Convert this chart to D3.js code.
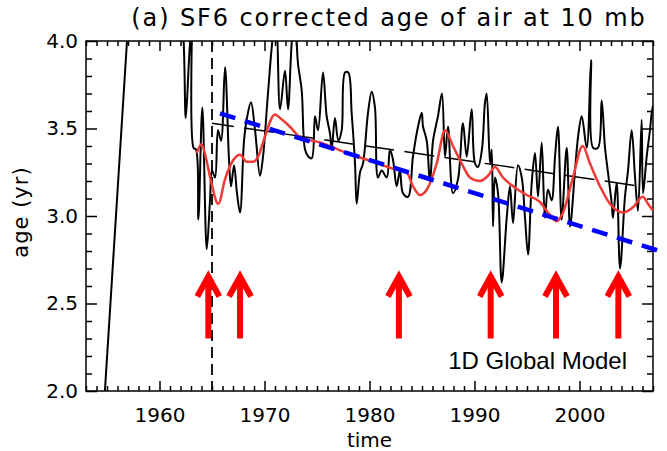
<!DOCTYPE html>
<html>
<head>
<meta charset="utf-8">
<script src="https://cdn.jsdelivr.net/npm/d3@7/dist/d3.min.js"></script>
<style>
  html, body { margin: 0; padding: 0; background: #fff; }
  svg { display: block; }
</style>
</head>
<body>
<div id="chart"></div>
<script>
// SF6 corrected age of air at 10 mb

// black curve: age (yr) vs time
const blackYears = [1954.0, 1955.0, 1956.0, 1957.0, 1957.5, 1959.5, 1961.5, 1962.24, 1962.50, 1962.81, 1963.05, 1963.24, 1963.48, 1963.70,
  1964.08, 1964.50, 1964.81, 1965.00, 1965.29, 1965.57, 1965.86, 1966.24, 1966.62, 1966.81, 1967.10, 1967.38,
  1967.67, 1968.05, 1968.33, 1968.71, 1969.10, 1969.57, 1969.86, 1970.33, 1970.81, 1971.10, 1971.48, 1971.95,
  1972.24, 1972.62, 1972.90, 1973.19, 1973.54, 1973.86, 1974.17, 1974.50, 1974.81, 1975.10, 1975.57, 1975.92,
  1976.24, 1976.40, 1976.71, 1977.03, 1977.35, 1977.67, 1977.98, 1978.30, 1978.62, 1978.78, 1979.10, 1979.38,
  1979.86, 1980.21, 1980.52, 1980.81, 1981.16, 1981.64, 1981.95, 1982.24, 1982.59, 1982.90, 1983.19, 1983.67,
  1984.14, 1984.62, 1984.97, 1985.10, 1985.45, 1985.76, 1986.05, 1986.52, 1986.90, 1987.19, 1987.48, 1987.95,
  1988.43, 1988.90, 1989.26, 1989.73, 1990.05, 1990.33, 1990.71, 1991.00, 1991.16, 1991.48, 1991.64, 1991.76,
  1991.95, 1992.24, 1992.59, 1993.07, 1993.38, 1993.67, 1994.14, 1994.50, 1994.81, 1995.10, 1995.45, 1995.76,
  1996.05, 1996.40, 1996.71, 1997.00, 1997.35, 1997.67, 1997.95, 1998.30, 1998.78, 1999.10, 1999.57, 1999.86,
  2000.21, 2000.69, 2001.10, 2001.29, 2001.76, 2002.11, 2002.43, 2002.71, 2003.07, 2003.19, 2003.54, 2003.86,
  2004.33, 2004.62, 2004.97, 2005.29, 2005.57, 2005.92, 2006.05, 2006.40, 2006.71, 2006.88, 2007.0];
const blackAges = [1.24, 2.19, 3.14, 4.09, 4.57, 4.6, 4.4, 4.06, 3.56, 3.89, 4.09, 3.39, 3.38, 2.98,
  3.62, 2.81, 3.09, 3.26, 3.22, 3.49, 3.43, 3.85, 3.32, 3.17, 3.29, 3.13,
  3.02, 3.43, 3.56, 3.65, 3.49, 3.23, 3.34, 3.70, 4.03, 4.12, 3.61, 3.83,
  3.61, 4.01, 4.12, 3.87, 3.72, 3.38, 3.34, 3.33, 3.57, 3.49, 3.82, 3.57,
  3.47, 3.38, 3.56, 3.43, 3.49, 3.82, 3.82, 3.59, 3.30, 3.07, 3.25, 3.30,
  3.59, 3.71, 3.62, 3.22, 3.26, 3.22, 3.38, 3.32, 3.17, 3.26, 3.13, 3.11,
  3.34, 3.51, 3.59, 3.51, 3.43, 3.19, 3.43, 3.57, 3.70, 3.34, 3.51, 3.13,
  3.21, 3.53, 3.34, 3.61, 3.30, 3.28, 3.38, 3.65, 3.70, 3.30, 3.38, 2.94,
  3.22, 3.13, 2.62, 2.99, 3.17, 2.96, 3.29, 3.22, 2.99, 2.78, 3.19, 3.36,
  3.11, 3.42, 2.99, 3.15, 3.09, 3.34, 3.51, 2.98, 3.39, 2.94, 3.26, 3.45,
  3.57, 3.39, 3.89, 3.39, 3.39, 3.66, 3.39, 3.25, 3.07, 2.99, 3.19, 2.70,
  3.11, 3.26, 3.49, 3.22, 3.03, 3.55, 3.13, 3.34, 3.49, 3.59, 3.63];

// red curve: 1D global model
const redYears = [1963.54, 1964.01, 1964.43, 1964.90, 1965.60, 1966.24, 1967.03, 1967.67, 1968.30, 1968.90, 1969.40,
  1969.86, 1971.0, 1971.48, 1972.43, 1973.38, 1975.29, 1977.83, 1980.33, 1982.24, 1983.54, 1984.14, 1984.81,
  1985.45, 1986.40, 1987.19, 1987.95, 1988.78, 1989.57, 1990.52, 1991.29, 1991.95, 1992.71, 1993.67, 1994.97,
  1996.24, 1997.0, 1997.83, 1998.43, 1999.38, 2000.30, 2001.0, 2001.95, 2002.90, 2004.14, 2005.10, 2006.02,
  2006.52, 2007.0];
const redAges = [3.36, 3.41, 3.33, 3.20, 3.07, 3.21, 3.32, 3.35, 3.31, 3.31, 3.34,
  3.42, 3.58, 3.56, 3.51, 3.45, 3.42, 3.36, 3.31, 3.27, 3.25, 3.17, 3.12,
  3.15, 3.30, 3.49, 3.40, 3.30, 3.22, 3.20, 3.23, 3.28, 3.22, 3.17, 3.12,
  3.08, 3.02, 2.97, 3.02, 3.22, 3.40, 3.30, 3.17, 3.07, 3.02, 3.05, 3.11,
  3.07, 3.03];

// thin black dashed trend and thick blue dashed fit
const trendYears = [1965.0, 2005.76];
const trendAges = [3.53, 3.17];
const fitYears = [1965.76, 2008.14];
const fitAges = [3.587, 2.79];

// vertical marker and eruption arrows
const markerYear = 1965;
const arrowYears = [1964.65, 1967.67, 1982.8, 1991.54, 1997.76, 2003.7];
const arrowTipAge = 2.66;
const arrowBaseAge = 2.30;

const xTicks = [1960, 1970, 1980, 1990, 2000];
const yTicks = [2.0, 2.5, 3.0, 3.5, 4.0];
const titleText = "(a) SF6 corrected age of air at 10 mb";
const modelLabel = "1D Global Model";

// ======================================================================================================
const W = 667, H = 451;
const margin = {top: 41, right: 14, bottom: 60, left: 86};
const width = W - margin.left - margin.right,
      height = H - margin.top - margin.bottom;

const svg = d3.select("#chart")
  .append("svg")
  .attr("width", W)
  .attr("height", H)
  .append("g")
  .attr("transform", "translate(" + margin.left + "," + margin.top + ")");

const x = d3.scaleLinear().domain([1953, 2007]).range([0, width]);
const y = d3.scaleLinear().domain([2.0, 4.0]).range([height, 0]);

svg.append("clipPath").attr("id", "plotclip")
  .append("rect").attr("width", width).attr("height", height);

const tickFont = "'DejaVu Sans', sans-serif";

// minor ticks
const minorX = d3.range(1953, 2008).filter(d => d % 10 !== 0);
const minorY = d3.range(21, 40).map(d => d / 10).filter(d => Math.round(d * 10) % 5 !== 0);

function styleAxis(g) {
  g.select(".domain").remove();
  g.selectAll("line").attr("stroke", "#000").attr("stroke-width", 1.5);
  g.selectAll("text").attr("font-family", tickFont).attr("font-size", 20).attr("fill", "#000");
}

svg.append("g").attr("transform", "translate(0," + height + ")")
  .call(d3.axisBottom(x).tickValues(xTicks).tickSizeInner(-10).tickSizeOuter(0)
    .tickPadding(17).tickFormat(d3.format("d")))
  .call(styleAxis);
svg.append("g").attr("transform", "translate(0," + height + ")")
  .call(d3.axisBottom(x).tickValues(minorX).tickSizeInner(-5).tickSizeOuter(0).tickFormat(""))
  .call(styleAxis);
svg.append("g")
  .call(d3.axisTop(x).tickValues(xTicks).tickSizeInner(-10).tickSizeOuter(0).tickFormat(""))
  .call(styleAxis);
svg.append("g")
  .call(d3.axisTop(x).tickValues(minorX).tickSizeInner(-5).tickSizeOuter(0).tickFormat(""))
  .call(styleAxis);

svg.append("g")
  .call(d3.axisLeft(y).tickValues(yTicks).tickSizeInner(-11).tickSizeOuter(0)
    .tickPadding(8).tickFormat(d3.format(".1f")))
  .call(styleAxis);
svg.append("g")
  .call(d3.axisLeft(y).tickValues(minorY).tickSizeInner(-6).tickSizeOuter(0).tickFormat(""))
  .call(styleAxis);
svg.append("g").attr("transform", "translate(" + width + ",0)")
  .call(d3.axisRight(y).tickValues(yTicks).tickSizeInner(-11).tickSizeOuter(0).tickFormat(""))
  .call(styleAxis);
svg.append("g").attr("transform", "translate(" + width + ",0)")
  .call(d3.axisRight(y).tickValues(minorY).tickSizeInner(-6).tickSizeOuter(0).tickFormat(""))
  .call(styleAxis);

// frame
svg.append("rect")
  .attr("width", width).attr("height", height)
  .attr("fill", "none").attr("stroke", "#000").attr("stroke-width", 1.5);

const plot = svg.append("g").attr("clip-path", "url(#plotclip)");

// vertical dashed marker
plot.append("line")
  .attr("x1", x(markerYear)).attr("x2", x(markerYear))
  .attr("y1", 0).attr("y2", height)
  .attr("stroke", "#000").attr("stroke-width", 1.8)
  .attr("stroke-dasharray", "11,6");

// black data
const blackData = blackYears.map((d, i) => [d, blackAges[i]]);
plot.append("path")
  .datum(blackData)
  .attr("fill", "none").attr("stroke", "#000").attr("stroke-width", 2)
  .attr("stroke-linejoin", "round")
  .attr("d", d3.line().x(d => x(d[0])).y(d => y(d[1])).curve(d3.curveCatmullRom.alpha(0.5)));

// thin dashed trend
plot.append("path")
  .datum(trendYears.map((d, i) => [d, trendAges[i]]))
  .attr("fill", "none").attr("stroke", "#000").attr("stroke-width", 1.5)
  .attr("stroke-dasharray", "30,10.5").attr("stroke-dashoffset", 8)
  .attr("d", d3.line().x(d => x(d[0])).y(d => y(d[1])));

// red model
plot.append("path")
  .datum(redYears.map((d, i) => [d, redAges[i]]))
  .attr("fill", "none").attr("stroke", "#ef3b36").attr("stroke-width", 2.5)
  .attr("stroke-linejoin", "round")
  .attr("d", d3.line().x(d => x(d[0])).y(d => y(d[1])).curve(d3.curveMonotoneX));

// blue fit (runs slightly past the right axis)
svg.append("path")
  .datum(fitYears.map((d, i) => [d, fitAges[i]]))
  .attr("fill", "none").attr("stroke", "#0000ff").attr("stroke-width", 4.5)
  .attr("stroke-dasharray", "16,10")
  .attr("d", d3.line().x(d => x(d[0])).y(d => y(d[1])));

// arrows
const arrows = svg.append("g").attr("stroke", "#ff0000").attr("stroke-width", 6).attr("fill", "none");
arrowYears.forEach(yr => {
  const ax = x(yr), tip = y(arrowTipAge), base = y(arrowBaseAge);
  arrows.append("line").attr("x1", ax).attr("x2", ax).attr("y1", base).attr("y2", tip + 3);
  arrows.append("path")
    .attr("stroke-linejoin", "miter")
    .attr("d", "M" + (ax - 11) + "," + (tip + 21) + "L" + ax + "," + (tip + 1) + "L" + (ax + 11) + "," + (tip + 21));
});

// texts
svg.append("text")
  .attr("x", x(1987.5)).attr("y", y(2.126))
  .attr("font-family", "'Liberation Sans', Arial, sans-serif").attr("font-size", 24)
  .text(modelLabel);

svg.append("text")
  .attr("x", 303).attr("y", -15)
  .attr("text-anchor", "middle")
  .attr("font-family", tickFont).attr("font-size", 24).attr("letter-spacing", 1.9)
  .text(titleText);

svg.append("text")
  .attr("x", width / 2).attr("y", height + 56)
  .attr("text-anchor", "middle")
  .attr("font-family", tickFont).attr("font-size", 20)
  .text("time");

svg.append("text")
  .attr("transform", "translate(" + (-58) + "," + (height / 2 - 4) + ") rotate(-90)")
  .attr("text-anchor", "middle")
  .attr("font-family", tickFont).attr("font-size", 21).attr("letter-spacing", 1)
  .text("age (yr)");
</script>
</body>
</html>
